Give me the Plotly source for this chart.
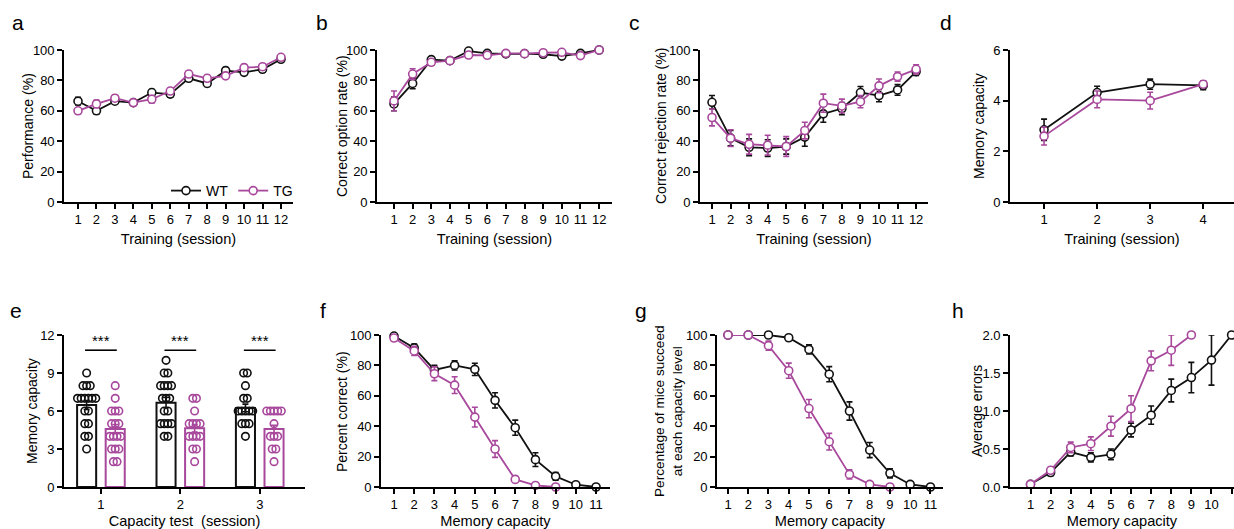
import plotly.graph_objects as go

W, H = 1234, 529
BLACK = "#111111"
PURPLE = "#a8489c"
FONT = "Liberation Sans, Arial, Helvetica, sans-serif"

# ---------------- data ----------------
sess12 = [1, 2, 3, 4, 5, 6, 7, 8, 9, 10, 11, 12]
a_wt = [66.3, 60, 66.3, 65.4, 72, 71, 81.4, 78, 86.4, 85.3, 87.3, 93.9]
a_wt_err = [2.5, 2, 2, 1.5, 2, 2, 2, 2, 2, 1.5, 1.5, 1.5]
a_tg = [60, 64.5, 68.3, 65.4, 67.6, 73, 84.2, 81.4, 83, 88.4, 89, 95.2]
a_tg_err = [2, 2.5, 2, 1.5, 2.5, 2, 2, 2, 1.5, 2, 1.5, 1.5]

b_wt = [64.5, 78, 93.7, 93, 99.3, 97.8, 97.4, 97.6, 97.2, 96, 97.8, 100]
b_wt_err = [4.5, 3.5, 1.5, 1.5, 1, 1, 1, 1, 1, 1, 1, 0]
b_tg = [66.5, 84.2, 91.9, 93, 96.7, 96.5, 97.8, 97.6, 98.2, 98.5, 96.3, 100]
b_tg_err = [6.5, 3.5, 1.5, 1.5, 1, 1, 1, 1, 1, 1, 1.5, 0]

c_wt = [65.6, 42, 36, 35.5, 36.5, 42.7, 58, 61.5, 72, 70, 73.7, 85.8]
c_wt_err = [4.5, 5, 5.5, 5.5, 5, 6, 5.5, 4, 4, 4, 3.5, 2.5]
c_tg = [55.6, 42, 38, 37.4, 36.5, 47, 65, 63.2, 66, 76.4, 82.5, 87.3]
c_tg_err = [5.5, 5.5, 6.5, 6.5, 6.5, 5.5, 6, 4.5, 4, 4.5, 3, 3]

sess4 = [1, 2, 3, 4]
d_wt = [2.85, 4.32, 4.65, 4.6]
d_wt_err = [0.42, 0.25, 0.2, 0.17]
d_tg = [2.6, 4.05, 4.0, 4.65]
d_tg_err = [0.35, 0.33, 0.33, 0.12]

cap_sess = [1, 2, 3]
e_wt_mean = [6.47, 6.66, 6.24]
e_wt_sem = [0.35, 0.4, 0.3]
e_tg_mean = [4.58, 4.63, 4.58]
e_tg_sem = [0.35, 0.3, 0.3]
e_wt_pts = [
    [9, 8, 8, 8, 7, 7, 7, 7, 7, 7, 6, 6, 5, 5, 4, 4, 3],
    [10, 9, 9, 8, 8, 8, 8, 7, 7, 7, 6, 6, 5, 5, 5, 5, 4, 4],
    [9, 9, 8, 7, 7, 6, 6, 6, 6, 6, 5, 5, 5, 4],
]
e_tg_pts = [
    [8, 7, 6, 6, 6, 5, 5, 5, 4, 4, 4, 4, 3, 3, 3, 2, 2],
    [7, 7, 6, 5, 5, 5, 5, 4, 4, 4, 4, 3, 3, 2],
    [6, 6, 6, 6, 6, 5, 4, 4, 4, 3, 3, 2],
]
e_sig = ["***", "***", "***"]

cap11 = [1, 2, 3, 4, 5, 6, 7, 8, 9, 10, 11]
cap9 = [1, 2, 3, 4, 5, 6, 7, 8, 9]
f_wt = [99.3, 91.5, 77, 80, 77.4, 57, 39, 18, 7, 1.5, 0]
f_wt_err = [1, 2.5, 3, 3, 4, 5, 5, 4.5, 2.5, 1, 0]
f_tg = [98, 89.5, 74.5, 67, 46, 25, 5, 1, 0]
f_tg_err = [1, 3, 4.5, 5.5, 6.5, 5.5, 2, 0.5, 0]

g_wt = [100, 100, 100, 98.2, 90.5, 74.2, 50, 24.3, 9, 1.7, 0]
g_wt_err = [0, 0, 0, 1, 3, 5, 6, 5, 3, 1, 0]
g_tg = [100, 100, 93, 76.5, 51.6, 29.8, 8.3, 1.7, 0]
g_tg_err = [0, 0, 3, 5, 6, 5.5, 3, 0.5, 0]

h_wt = [0.035, 0.19, 0.46, 0.39, 0.43, 0.75, 0.945, 1.27, 1.44, 1.67, 2.0]
h_wt_err = [0.02, 0.04, 0.05, 0.06, 0.07, 0.09, 0.12, 0.15, 0.2, 0.33, 0]
h_tg = [0.035, 0.22, 0.52, 0.57, 0.80, 1.03, 1.66, 1.8, 2.0]
h_tg_err = [0.02, 0.04, 0.07, 0.09, 0.13, 0.17, 0.13, 0.2, 0]

# ---------------- layout helpers ----------------
def fx(p):
    return p / W

def fy(p):
    return 1 - p / H

TOP = [fy(202), fy(50)]
BOT = [fy(487), fy(335)]

TICK_SIZE = 13
TITLE_SIZE = 14.6

panels = {
    # x domain px, y domain, x range, y range, x ticks, y ticks, x title, y title, y-title centre x px
    "a": ((64, 293), TOP, [0.241, 12.65], [0, 100], sess12, [0, 20, 40, 60, 80, 100],
          "Training (session)", "Performance (%)", 28),
    "b": ((377, 612), TOP, [0.088, 12.69], [0, 100], sess12, [0, 20, 40, 60, 80, 100],
          "Training (session)", "Correct option rate (%)", 342),
    "c": ((700, 928), TOP, [0.353, 12.64], [0, 100], sess12, [0, 20, 40, 60, 80, 100],
          "Training (session)", "Correct rejection rate (%)", 661),
    "d": ((1010, 1234), TOP, [0.358, 4.58], [0, 6], sess4, [0, 2, 4, 6],
          "Training (session)", "Memory capacity", 979),
    "e": ((64, 305), BOT, [0.535, 3.57], [0, 12], cap_sess, [0, 3, 6, 9, 12],
          "Capacity test  (session)", "Memory capacity", 32),
    "f": ((381, 610), BOT, [0.356, 11.69], [0, 100], cap11, [0, 20, 40, 60, 80, 100],
          "Memory capacity", "Percent correct (%)", 342),
    "g": ((717, 943), BOT, [0.457, 11.62], [0, 100], cap11, [0, 20, 40, 60, 80, 100],
          "Memory capacity", "Percentage of mice succeed<br>at each capacity level", 668),
    "h": ((1010, 1234), BOT, [-0.02, 11.12], [0, 2], cap11, [0, 0.5, 1.0, 1.5, 2.0],
          "Memory capacity", "Average errors", 977),
}
names = list(panels.keys())

fig = go.Figure()
annotations = []
layout = dict(
    width=W, height=H,
    margin=dict(l=0, r=0, t=0, b=0, pad=0, autoexpand=False),
    paper_bgcolor="white", plot_bgcolor="rgba(0,0,0,0)",
    font=dict(family=FONT, color="black", size=TICK_SIZE),
    showlegend=True,
)

for i, n in enumerate(names):
    k = i + 1
    xd, yd, xr, yr, xt, yt, xtitle, ytitle, ytx = panels[n]
    common = dict(showline=True, linecolor="black", linewidth=1.6, ticks="outside",
                  ticklen=5, tickwidth=1.6, tickcolor="black", showgrid=False,
                  zeroline=False, automargin=False,
                  tickfont=dict(size=TICK_SIZE, color="black"))
    layout[f"xaxis{k}"] = dict(common, domain=[fx(xd[0]), fx(xd[1])], range=xr,
                               tickvals=xt, anchor=f"y{k}",
                               title=dict(text=xtitle, font=dict(size=TITLE_SIZE), standoff=7))
    ytf = ".1f" if n == "h" else ""
    layout[f"yaxis{k}"] = dict(common, domain=yd, range=yr, tickvals=yt,
                               tickformat=ytf, anchor=f"x{k}")
    annotations.append(dict(
        text=ytitle, xref="paper", yref="paper", x=fx(ytx), y=(yd[0] + yd[1]) / 2,
        xanchor="center", yanchor="middle", textangle=-90, showarrow=False,
        font=dict(size=14 if n != "g" else 13.6, color="black")))

def add_series(k, x, y, err, color, name=None, legend=False):
    fig.add_trace(go.Scatter(
        x=x, y=y, mode="lines+markers", name=name, showlegend=legend,
        xaxis=f"x{k}", yaxis=f"y{k}", cliponaxis=False,
        line=dict(color=color, width=1.8),
        marker=dict(symbol="circle", size=8, color="white", line=dict(color=color, width=1.6)),
        error_y=dict(type="data", array=err, color=color, thickness=1.6, width=3),
    ))

add_series(1, sess12, a_wt, a_wt_err, BLACK, "WT", True)
add_series(1, sess12, a_tg, a_tg_err, PURPLE, "TG", True)
add_series(2, sess12, b_wt, b_wt_err, BLACK)
add_series(2, sess12, b_tg, b_tg_err, PURPLE)
add_series(3, sess12, c_wt, c_wt_err, BLACK)
add_series(3, sess12, c_tg, c_tg_err, PURPLE)
add_series(4, sess4, d_wt, d_wt_err, BLACK)
add_series(4, sess4, d_tg, d_tg_err, PURPLE)

# ---- panel e: bars + individual points ----
BAR_OFF = 0.18
for mean, sem, color, grp in [(e_wt_mean, e_wt_sem, BLACK, "wt"), (e_tg_mean, e_tg_sem, PURPLE, "tg")]:
    fig.add_trace(go.Bar(
        x=cap_sess, y=mean, offsetgroup=grp, showlegend=False,
        xaxis="x5", yaxis="y5",
        marker=dict(color="rgba(255,255,255,0)", line=dict(color=color, width=2)),
        error_y=dict(type="data", array=sem, color=color, thickness=1.6, width=3),
    ))

def swarm(values, center, step=0.046):
    xs, ys = [], []
    groups = {}
    for v in values:
        groups[v] = groups.get(v, 0) + 1
    for v, cnt in groups.items():
        for j in range(cnt):
            xs.append(center + (j - (cnt - 1) / 2) * step)
            ys.append(v)
    return xs, ys

for pts, color, sign in [(e_wt_pts, BLACK, -1), (e_tg_pts, PURPLE, 1)]:
    X, Y = [], []
    for s, vals in zip(cap_sess, pts):
        xs, ys = swarm(vals, s + sign * BAR_OFF)
        X += xs
        Y += ys
    fig.add_trace(go.Scatter(
        x=X, y=Y, mode="markers", showlegend=False, xaxis="x5", yaxis="y5",
        cliponaxis=False,
        marker=dict(symbol="circle", size=7.5, color="rgba(255,255,255,0)",
                    line=dict(color=color, width=1.6)),
    ))

shapes = []
for s, txt in zip(cap_sess, e_sig):
    shapes.append(dict(type="line", xref="x5", yref="y5", x0=s - BAR_OFF - 0.02, x1=s + BAR_OFF + 0.02,
                       y0=10.8, y1=10.8, line=dict(color="black", width=1.6)))
    annotations.append(dict(text=txt, xref="x5", yref="y5", x=s, y=10.75, yanchor="bottom",
                            showarrow=False, font=dict(size=15, color="black")))

add_series(6, cap11, f_wt, f_wt_err, BLACK)
add_series(6, cap9, f_tg, f_tg_err, PURPLE)
add_series(7, cap11, g_wt, g_wt_err, BLACK)
add_series(7, cap9, g_tg, g_tg_err, PURPLE)
add_series(8, cap11, h_wt, h_wt_err, BLACK)
add_series(8, cap9, h_tg, h_tg_err, PURPLE)

# panel letters
letters = [("a", 18, 23), ("b", 322, 23), ("c", 634, 23), ("d", 946, 23),
           ("e", 16, 310), ("f", 323, 310), ("g", 641, 310), ("h", 958, 310)]
for t, x, y in letters:
    annotations.append(dict(text=t, xref="paper", yref="paper", x=fx(x), y=fy(y),
                            xanchor="center", yanchor="middle", showarrow=False,
                            font=dict(size=21, color="black")))

layout["shapes"] = shapes
layout["annotations"] = annotations
layout["bargap"] = 1 - 4 * BAR_OFF
layout["bargroupgap"] = 0.333
layout["barmode"] = "group"
layout["legend"] = dict(orientation="h", x=fx(298), xanchor="right", y=fy(191), yanchor="middle",
                        font=dict(size=14, color="black"), bgcolor="rgba(0,0,0,0)",
                        itemwidth=30, tracegroupgap=0)

fig.update_layout(**layout)
fig.write_html("out.html", config={"displayModeBar": False},
               post_script="document.body.style.margin='0';document.body.style.overflow='hidden';")
